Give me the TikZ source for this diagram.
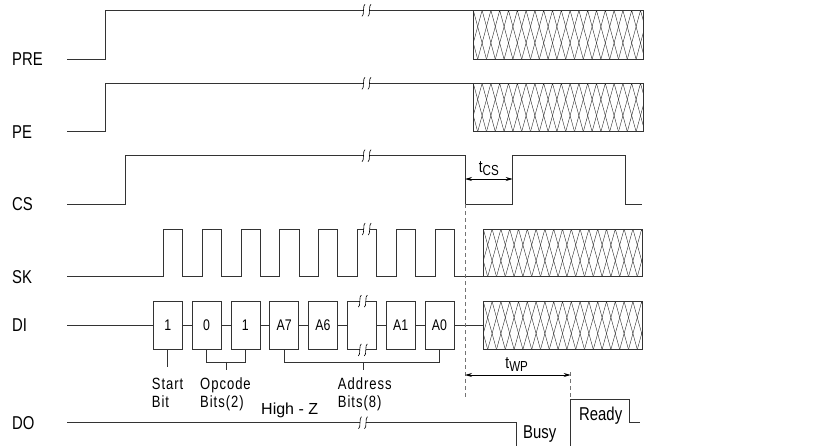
\documentclass[tikz,border=0pt]{standalone}
\usepackage{fontspec}
\usepackage{tikz}
\usetikzlibrary{arrows.meta,positioning}

\newfontfamily\narrowsf[FakeStretch=0.8]{Liberation Sans}
\newfontfamily\spacedsf[FakeStretch=0.8,LetterSpace=6]{Liberation Sans}
\newfontfamily\plainsf{Liberation Sans}

% kotak silang (keadaan tidak peduli)
\newcommand{\hatchbox}[4]{%
	\begin{scope}
		\clip (#1,#2) rectangle (#3,#4);
		\foreach \k in {-3,...,21}
			\draw [hatchline] ({#1+\k*8.8},#2) -- ({#1+\k*8.8+13.2},#4)
			                  ({#1+\k*8.8},#2) -- ({#1+\k*8.8-13.2},#4);
	\end{scope}
	\draw [sig] (#1,#2) rectangle (#3,#4);}

\tikzset{
	sig/.style={line width=0.8pt, black!80},
	hatchline/.style={line width=0.4pt, black!85},
	dashline/.style={line width=0.8pt, black!55, dash pattern=on 4pt off 3pt},
	signame/.style={anchor=west, inner sep=0pt, font=\narrowsf\fontsize{18.6}{20}\selectfont},
	bit/.style={draw, line width=0.8pt, black!80, text=black, minimum width=29pt, minimum height=48pt, inner sep=0pt, font=\narrowsf\fontsize{15.4}{16}\selectfont},
	note/.style={anchor=north west, align=left, inner sep=0pt, font=\spacedsf\fontsize{16.3}{18.3}\selectfont},
	timing/.style={line width=0.8pt, {Stealth[length=7pt,width=4pt]}-{Stealth[length=7pt,width=4pt]}},
	brk/.pic={
		\fill [white] (-3,-2) rectangle (3,2);
		\draw [line width=0.6pt] (-1.5,-6) .. controls (-4,-6) and (-2,6) .. (-4.5,6);
		\draw [line width=0.6pt] (4.5,-6) .. controls (2,-6) and (4,6) .. (1.5,6);
	}
}

\begin{document}
\begin{tikzpicture}[x=1pt, y=-1pt, node distance=38.8pt]
	\useasboundingbox (0,0) rectangle (817,445);

	% nama sinyal
	\node (pre) [signame] at (12,59.3) {PRE};
	\node (pe)  [signame] at (12,131.7) {PE};
	\node (cs)  [signame] at (12,204) {CS};
	\node (sk)  [signame] at (12,276.7) {SK};
	\node (di)  [signame] at (12,325.5) {DI};
	\node (do)  [signame] at (12,422.7) {DO};

	% PRE dan PE
	\draw [sig] (67,59.3) -- (105,59.3) -- (105,10.3) -- (473.3,10.3);
	\hatchbox{473.3}{10.3}{643}{59.3}
	\pic at (366.5,10.3) {brk};
	\draw [sig] (67,131.7) -- (105,131.7) -- (105,83.3) -- (473.3,83.3);
	\hatchbox{473.3}{83.3}{643}{131.7}
	\pic at (366.5,83.3) {brk};

	% CS
	\draw [sig] (67,204) -- (125,204) -- (125,155.7) -- (465,155.7) -- (465,204)
		-- (512.7,204) -- (512.7,155.7) -- (625.7,155.7) -- (625.7,204) -- (642,204);
	\pic at (366.5,155.7) {brk};
	\coordinate (csa) at (465,179);
	\coordinate (csb) at (512.7,179);
	\draw [timing] (csa) -- (csb);
	\node (tcs) [anchor=south, inner sep=0pt, font=\narrowsf\fontsize{17}{17}\selectfont]
		at (488.8,175.5) {t\raisebox{-3pt}{\fontsize{14.5}{15}\selectfont CS}};

	% SK
	\draw [sig] (67,276.7) foreach \i in {0,...,7} {
		-- ({163.3+38.8*\i},276.7) -- ++(0,-47.7) -- ++(19.3,0) -- ++(0,47.7) } -- (483.3,276.7);
	\hatchbox{483.3}{229}{642.3}{276.7}
	\pic at (366.7,229) {brk};

	% DI
	\coordinate (dis) at (67,325.5);
	\node (b1) [bit] at (167.8,325.5) {1};
	\node (b2) [bit, right of=b1] {0};
	\node (b3) [bit, right of=b2] {1};
	\node (b4) [bit, right of=b3] {A7};
	\node (b5) [bit, right of=b4] {A6};
	\node (b6) [bit, right of=b5] {};
	\node (b7) [bit, right of=b6] {A1};
	\node (b8) [bit, right of=b7] {A0};
	\coordinate (dih) at (483.3,325.5);
	\draw [sig] (dis) -- (b1);
	\foreach \a/\b in {b1/b2, b2/b3, b3/b4, b4/b5, b5/b6, b6/b7, b7/b8}
		\draw [sig] (\a) -- (\b);
	\draw [sig] (b8) -- (dih);
	\hatchbox{483.3}{301.5}{642.7}{349.5}
	\pic at ([xshift=1pt]b6.north) {brk};
	\pic at ([xshift=1pt]b6.south) {brk};

	% kurung keterangan bit
	\draw [sig] (b1.south) -- ++(0,16.7);
	\draw [sig] (b2.south) -- ++(0,12) coordinate (op) -| (b3.south);
	\draw [sig] (op) ++(19.4,0) -- ++(0,8.3);
	\draw [sig] (b4.south) -- ++(0,12) coordinate (ad) -| (b8.south);
	\draw [sig] (ad) ++(79,0) -- ++(0,8.3);
	\node (start) [note] at (151.7,377.5) {Start\\Bit};
	\node (opc)   [note] at (200,377.5) {Opcode\\Bits(2)};
	\node (addr)  [note] at (337.7,377.5) {Address\\Bits(8)};

	% DO
	\draw [sig] (67,422.7) -- (516.7,422.7) -- (516.7,446);
	\pic at (363,422.7) {brk};
	\node (hiz) [anchor=base west, inner sep=0pt, font=\plainsf\fontsize{16}{16}\selectfont] at (261,414) {High - Z};
	\node (busy) [anchor=base west, inner sep=0pt, font=\narrowsf\fontsize{18.6}{20}\selectfont] at (523,438.3) {Busy};
	\draw [sig] (570.7,446) -- (570.7,399.3) -- (629.3,399.3) -- (629.3,422.7) -- (640,422.7);
	\node (ready) [anchor=base west, inner sep=0pt, font=\narrowsf\fontsize{18.6}{20}\selectfont] at (579,420) {Ready};

	% garis putus-putus dan tWP
	\coordinate (cut) at (465,204);
	\coordinate (cutend) at (465,398);
	\draw [dashline] (cut) -- (cutend);
	\coordinate (wpa) at (465,375);
	\coordinate (wpb) at (570.7,375);
	\draw [dashline] (570.7,372) -- (570.7,399.3);
	\draw [timing] (wpa) -- (wpb);
	\node (twp) [anchor=south, inner sep=0pt, font=\narrowsf\fontsize{17}{17}\selectfont]
		at (516.7,372) {t\raisebox{-3pt}{\fontsize{14.5}{15}\selectfont WP}};
\end{tikzpicture}
\end{document}
